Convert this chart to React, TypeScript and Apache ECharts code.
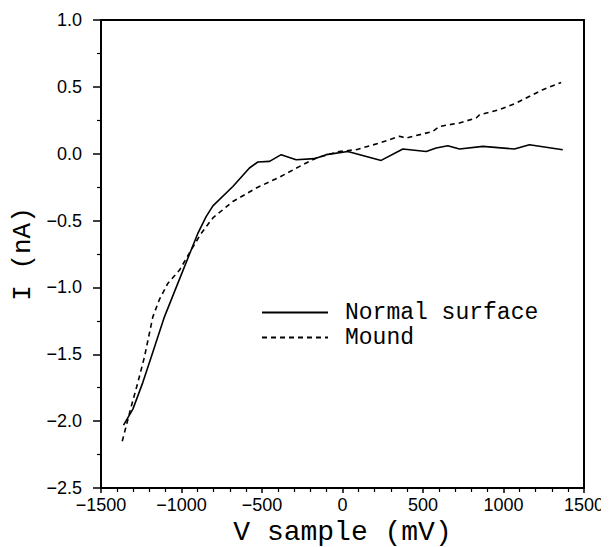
import React, { useEffect, useRef } from "react";
import * as echarts from "echarts";

const normalV = [-1360, -1302, -1240, -1188, -1106, -1023, -940, -900, -847, -805, -681, -578, -526, -453, -381, -288, -174, -101, 33, 240, 375, 520, 582, 654, 727, 872, 1068, 1161, 1368];
const normalI = [-2.03, -1.91, -1.71, -1.52, -1.22, -0.97, -0.72, -0.6, -0.47, -0.39, -0.245, -0.107, -0.062, -0.057, -0.007, -0.045, -0.037, -0.007, 0.017, -0.05, 0.035, 0.017, 0.043, 0.06, 0.035, 0.055, 0.035, 0.067, 0.03];

const moundV = [-1368, -1312, -1271, -1230, -1178, -1137, -1085, -1012, -940, -880, -805, -681, -536, -391, -267, -163, -19, 85, 230, 354, 396, 561, 602, 727, 830, 851, 975, 1079, 1141, 1244, 1358];
const moundI = [-2.15, -1.89, -1.71, -1.52, -1.22, -1.09, -0.97, -0.87, -0.72, -0.6, -0.48, -0.357, -0.257, -0.175, -0.095, -0.032, 0.017, 0.03, 0.08, 0.13, 0.117, 0.167, 0.204, 0.23, 0.267, 0.29, 0.33, 0.379, 0.417, 0.479, 0.533];

const seriesNames = ["Normal surface", "Mound"];
const xTitle = "V sample (mV)";
const yTitle = "I (nA)";

const zip = (a: number[], b: number[]) => a.map((v, i) => [v, b[i]]);

export default function App() {
  const ref = useRef<HTMLDivElement>(null);
  useEffect(() => {
    if (!ref.current) return;
    const chart = echarts.init(ref.current, undefined, { renderer: "svg" });
    const numFont = "Liberation Sans";
    const monoFont = "Liberation Mono";
    const fmtMinus = (s: string) => s.replace("-", "\u2212");
    chart.setOption({
      animation: false,
      backgroundColor: "#fff",
      grid: { left: 93, right: 25, top: 12, bottom: 59, outerBoundsMode: "none", containLabel: false },
      legend: {
        orient: "vertical",
        left: 248,
        top: 288,
        itemWidth: 66,
        itemHeight: 14,
        itemGap: 2,
        itemStyle: { opacity: 0 },
        textStyle: { fontFamily: monoFont, fontSize: 23, color: "#000", padding: [0, 0, 0, 12] },
        data: seriesNames,
      },
      xAxis: [
        {
          type: "value",
          min: -1500,
          max: 1500,
          interval: 500,
          name: xTitle,
          nameLocation: "middle",
          nameGap: 20,
          nameTextStyle: { fontFamily: monoFont, fontSize: 28, color: "#000" },
          axisLine: { onZero: false, lineStyle: { color: "#000", width: 2 } },
          axisTick: { show: true, length: 5, lineStyle: { color: "#000", width: 1.5 } },
          minorTick: { show: true, splitNumber: 5, length: 4, lineStyle: { color: "#000", width: 1.2 } },
          splitLine: { show: false },
          axisLabel: { fontFamily: numFont, fontSize: 18, color: "#000", margin: 8, formatter: (v: number) => fmtMinus(String(v)) },
        },
        {
          type: "value",
          position: "top",
          min: -1500,
          max: 1500,
          axisLine: { show: true, onZero: false, lineStyle: { color: "#000", width: 2 } },
          axisTick: { show: false },
          axisLabel: { show: false },
          splitLine: { show: false },
        },
      ],
      yAxis: [
        {
          type: "value",
          min: -2.5,
          max: 1.0,
          interval: 0.5,
          name: yTitle,
          nameLocation: "middle",
          nameRotate: 90,
          nameGap: 62,
          nameTextStyle: { fontFamily: monoFont, fontSize: 26, color: "#000" },
          axisLine: { onZero: false, lineStyle: { color: "#000", width: 2 } },
          axisTick: { show: true, length: 8, lineStyle: { color: "#000", width: 1.5 } },
          minorTick: { show: true, splitNumber: 2, length: 4, lineStyle: { color: "#000", width: 1.2 } },
          splitLine: { show: false },
          axisLabel: { fontFamily: numFont, fontSize: 18, color: "#000", margin: 19, formatter: (v: number) => fmtMinus(v.toFixed(1)) },
        },
        {
          type: "value",
          position: "right",
          min: -2.5,
          max: 1.0,
          axisLine: { show: true, onZero: false, lineStyle: { color: "#000", width: 2 } },
          axisTick: { show: false },
          axisLabel: { show: false },
          splitLine: { show: false },
        },
      ],
      series: [
        {
          name: seriesNames[0],
          type: "line",
          data: zip(normalV, normalI),
          symbol: "none",
          lineStyle: { color: "#000", width: 1.6, type: "solid" },
          itemStyle: { color: "#000" },
        },
        {
          name: seriesNames[1],
          type: "line",
          data: zip(moundV, moundI),
          symbol: "none",
          lineStyle: { color: "#000", width: 1.6, type: [5, 4] },
          itemStyle: { color: "#000" },
        },
      ],
    });
    return () => chart.dispose();
  }, []);
  return <div ref={ref} style={{ width: 601, height: 539 }} />;
}
